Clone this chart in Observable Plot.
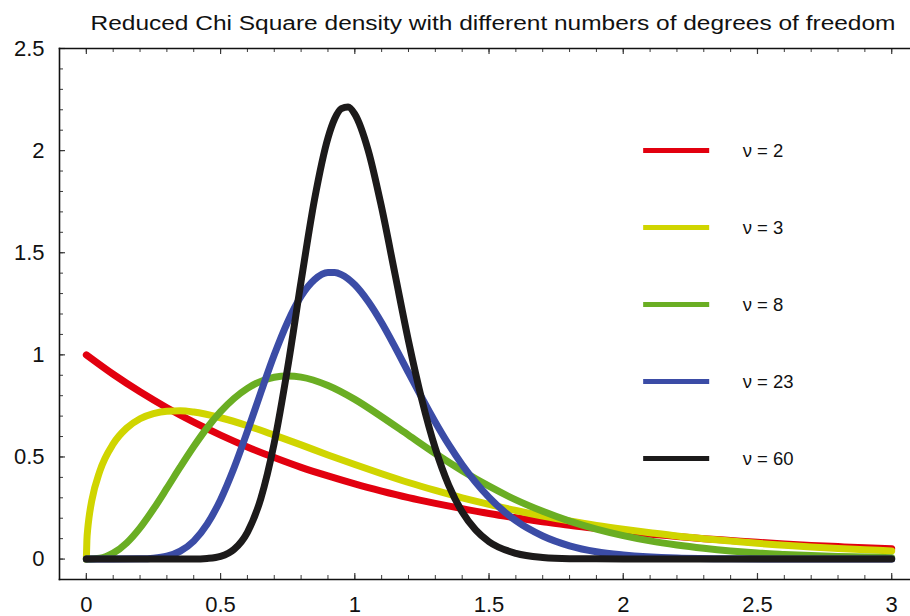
<!DOCTYPE html>
<html><head><meta charset="utf-8">
<script src="https://cdn.jsdelivr.net/npm/d3@7"></script>
<script src="https://cdn.jsdelivr.net/npm/@observablehq/plot@0.6"></script>
<style>body{margin:0;background:#fff} svg{display:block}</style>
</head><body><div id="chart"></div>
<script>
const title = "Reduced Chi Square density with different numbers of degrees of freedom";
const nuValues = [2, 3, 8, 23, 60];
const seriesColors = ["#e2000f", "#d0d500", "#6aae23", "#3b4ca6", "#1c1a1a"];

const nu2X = [0,0.1,0.2,0.3,0.4,0.5,0.6,0.7,0.8,0.9,1.0,1.1,1.2,1.3,1.4,1.5,1.6,1.7,1.8,1.9,2.0,2.1,2.2,2.3,2.4,2.5,2.6,2.7,2.8,2.9,3.0];
const nu2Y = [1.000,0.905,0.819,0.741,0.670,0.607,0.549,0.497,0.449,0.407,0.368,0.333,0.301,0.273,0.247,0.223,0.202,0.183,0.165,0.150,0.135,0.122,0.111,0.100,0.091,0.082,0.074,0.067,0.061,0.055,0.050];

const nu3X = [0,0.002,0.005,0.01,0.02,0.05,0.1,0.15,0.2,0.25,0.3,0.35,0.4,0.5,0.6,0.7,0.8,0.9,1.0,1.1,1.2,1.3,1.4,1.5,1.6,1.7,1.8,1.9,2.0,2.1,2.2,2.3,2.4,2.5,2.6,2.7,2.8,2.9,3.0];
const nu3Y = [0,0.092,0.146,0.204,0.285,0.430,0.564,0.641,0.687,0.712,0.724,0.726,0.720,0.692,0.653,0.607,0.559,0.510,0.463,0.418,0.375,0.336,0.300,0.268,0.238,0.211,0.187,0.165,0.146,0.129,0.113,0.100,0.088,0.077,0.068,0.059,0.052,0.046,0.040];

const nu8X = [0,0.05,0.1,0.15,0.2,0.25,0.3,0.35,0.4,0.45,0.5,0.6,0.7,0.75,0.8,0.9,1.0,1.1,1.2,1.3,1.4,1.5,1.6,1.7,1.8,1.9,2.0,2.1,2.2,2.3,2.4,2.5,2.6,2.7,2.8,2.9,3.0];
const nu8Y = [0,0.004,0.029,0.079,0.153,0.245,0.347,0.451,0.551,0.643,0.722,0.836,0.890,0.896,0.891,0.850,0.782,0.697,0.607,0.517,0.433,0.357,0.290,0.234,0.186,0.147,0.115,0.089,0.069,0.053,0.040,0.030,0.023,0.017,0.013,0.010,0.007];

const nu23X = [0,0.1,0.2,0.25,0.3,0.35,0.4,0.45,0.5,0.55,0.6,0.65,0.7,0.75,0.8,0.85,0.9,0.925,0.95,1.0,1.05,1.1,1.15,1.2,1.25,1.3,1.35,1.4,1.5,1.6,1.7,1.8,1.9,2.0,2.2,2.4,2.6,2.8,3.0];
const nu23Y = [0,0.000,0.001,0.004,0.014,0.039,0.088,0.171,0.291,0.446,0.626,0.816,1.000,1.161,1.287,1.368,1.403,1.403,1.393,1.343,1.261,1.157,1.038,0.913,0.789,0.670,0.560,0.462,0.302,0.188,0.113,0.065,0.036,0.020,0.005,0.001,0.000,0.000,0.000];

const nu60X = [0,0.2,0.4,0.45,0.5,0.55,0.6,0.65,0.7,0.75,0.8,0.85,0.9,0.925,0.95,0.975,1.0,1.05,1.1,1.15,1.2,1.25,1.3,1.35,1.4,1.45,1.5,1.6,1.7,1.8,1.9,2.0,2.5,3.0];
const nu60Y = [0,0.000,0.000,0.003,0.013,0.047,0.131,0.297,0.569,0.938,1.360,1.761,2.062,2.156,2.206,2.214,2.179,2.001,1.721,1.394,1.068,0.779,0.542,0.361,0.231,0.143,0.085,0.028,0.008,0.002,0.001,0.000,0.000,0.000];

const xTicks = [0, 0.5, 1, 1.5, 2, 2.5, 3];
const yTicks = [0, 0.5, 1, 1.5, 2, 2.5];

const seriesXs = [nu2X, nu3X, nu8X, nu23X, nu60X];
const seriesYs = [nu2Y, nu3Y, nu8Y, nu23Y, nu60Y];

// layout
const W = 910, H = 616;
const mL = 59, mR = 0, mT = 48, mB = 37;
const frameW = W - mL - mR, frameH = H - mT - mB;
const xMinor = d3.range(0, 3.001, 0.1).map(v => +v.toFixed(1));
const yMinor = d3.range(0, 2.501, 0.1).map(v => +v.toFixed(1));
const FONT = "'Liberation Sans', Arial, sans-serif";
const axisColor = "#3a3a3a";
const fmt = d => String(d);

const series = nuValues.map((nu, i) => ({
  nu, color: seriesColors[i],
  rows: seriesXs[i].map((x, j) => ({x, y: seriesYs[i][j]}))
}));

// legend layout (data units of the chart frame)
const legX1 = 2.076, legX2 = 2.322, legTextX = 2.445, legTop = 2.0, legStep = 0.377;
const legendRows = series.map((s, i) => ({y: legTop - i * legStep, label: `ν = ${s.nu}`, color: s.color}));

const marks = [
  Plot.ruleX(xMinor, {x: d => d, insetTop: frameH - 4, stroke: axisColor, strokeWidth: 1}),
  Plot.ruleX(xTicks, {x: d => d, insetTop: frameH - 6, stroke: axisColor, strokeWidth: 1.2}),
  Plot.ruleX(xMinor, {x: d => d, insetBottom: frameH - 4, stroke: axisColor, strokeWidth: 1}),
  Plot.ruleX(xTicks, {x: d => d, insetBottom: frameH - 6, stroke: axisColor, strokeWidth: 1.2}),
  Plot.ruleY(yMinor, {y: d => d, insetRight: frameW - 4, stroke: axisColor, strokeWidth: 1}),
  Plot.ruleY(yTicks, {y: d => d, insetRight: frameW - 6, stroke: axisColor, strokeWidth: 1.2}),
  Plot.frame({anchor: "left", stroke: "#111", strokeWidth: 1.6}),
  Plot.frame({anchor: "top", stroke: "#111", strokeWidth: 1.6}),
  Plot.frame({anchor: "bottom", stroke: "#111", strokeWidth: 1.6}),
  // tick labels
  Plot.text(xTicks, {x: d => d, frameAnchor: "bottom", lineAnchor: "top", dy: 17, text: fmt, fontSize: 22, fill: "#111"}),
  Plot.text(yTicks, {y: d => d, frameAnchor: "left", textAnchor: "end", dx: -15, text: fmt, fontSize: 22, fill: "#111"}),
  ...series.map(s => Plot.line(s.rows, {x: "x", y: "y", stroke: s.color, strokeWidth: 7,
    strokeLinecap: "round", strokeLinejoin: "round", curve: "monotone-x"})),
  ...legendRows.map(r => Plot.ruleY([r], {y: "y", x1: legX1, x2: legX2, stroke: r.color, strokeWidth: 5})),
  Plot.text(legendRows, {x: legTextX, y: "y", text: "label", textAnchor: "start", fontSize: 18.5, fill: "#111"}),
  Plot.text([title], {frameAnchor: "top", dx: 8, dy: -33, lineAnchor: "top", fontSize: 20, fill: "#111", className: "chart-title"})
];

const chart = Plot.plot({
  width: W, height: H,
  marginLeft: mL, marginRight: mR, marginTop: mT, marginBottom: mB,
  style: {fontFamily: FONT, background: "#fff", overflow: "visible"},
  x: {domain: [-0.1, 3.07], axis: null},
  y: {domain: [-0.1, 2.5], axis: null},
  marks
});
// stretch title horizontally like the reference
chart.querySelectorAll("g.chart-title text").forEach(t => {
  t.setAttribute("textLength", 805);
  t.setAttribute("lengthAdjust", "spacingAndGlyphs");
});
document.getElementById("chart").append(chart);
</script>
</body></html>
